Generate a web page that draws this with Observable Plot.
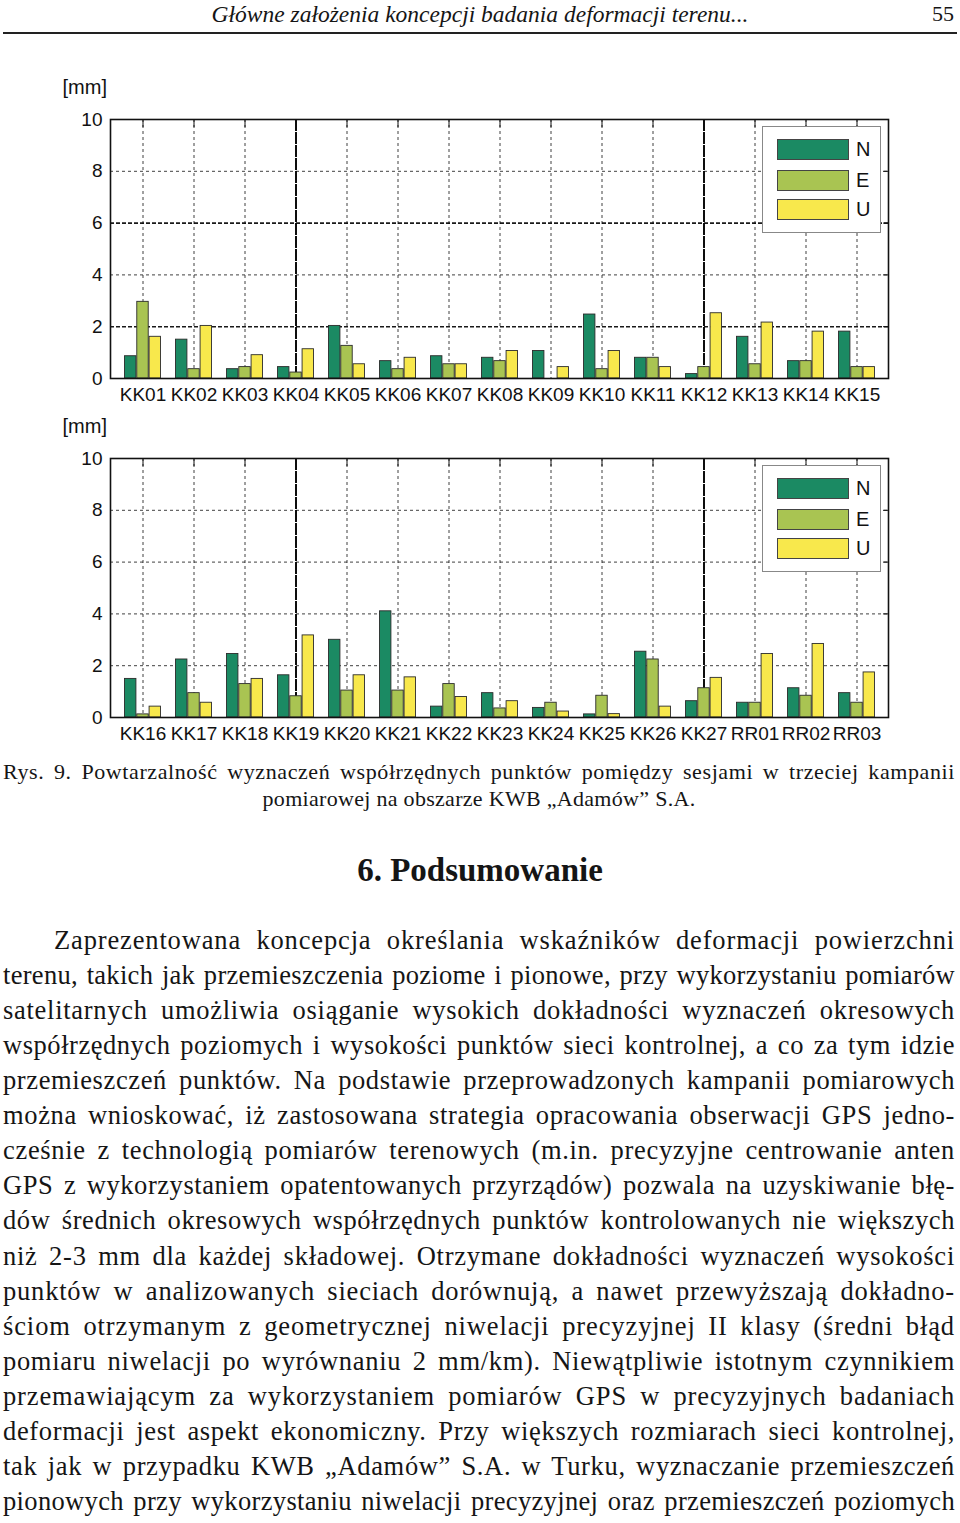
<!DOCTYPE html>
<html><head><meta charset="utf-8">
<script src="https://cdn.jsdelivr.net/npm/d3@7"></script>
<script src="https://cdn.jsdelivr.net/npm/@observablehq/plot@0.6"></script>
<style>
body{margin:0;background:#fff;}
#page{position:relative;width:960px;height:1523px;overflow:hidden;font-family:"Liberation Serif","Times New Roman",serif;color:#151515;background:#fff;}
.abs{position:absolute;white-space:nowrap;}
.chart{position:absolute;left:0;width:960px;height:340px;}
.legend{position:absolute;left:762px;top:54px;width:119px;height:107px;border:1px solid #888;background:#fff;box-sizing:border-box;font-family:"Liberation Sans",Arial,sans-serif;font-size:20px;color:#111;}
.sw{position:absolute;left:14px;width:72px;height:21px;border:1px solid #444;box-sizing:border-box;}
.lt{position:absolute;left:93px;line-height:21px;}
.line{position:absolute;white-space:nowrap;font-size:26.5px;line-height:35px;}
.cap{position:absolute;white-space:nowrap;font-size:22px;line-height:27px;}
</style>
</head><body>
<div id="page">
  <div class="abs" id="hdr" style="left:0;width:960px;text-align:center;top:0;font-style:italic;font-size:23.5px;line-height:28px;">Główne założenia koncepcji badania deformacji terenu...</div>
  <div class="abs" style="left:932px;top:0;font-size:22px;line-height:28px;">55</div>
  <div class="abs" style="left:3px;top:32px;width:954px;height:1.5px;background:#222;"></div>
  <div class="chart" id="c1" style="top:72px;"></div>
  <div class="chart" id="c2" style="top:411px;"></div>
  <div id="caption"></div>
  <div class="abs" style="left:0;width:960px;text-align:center;top:850px;font-size:33px;line-height:40px;font-weight:bold;">6. Podsumowanie</div>
  <div id="body"></div>
</div>
<script>
// ---- data ----
const cats1 = ["KK01","KK02","KK03","KK04","KK05","KK06","KK07","KK08","KK09","KK10","KK11","KK12","KK13","KK14","KK15"];
const n1 = [0.86,1.50,0.36,0.44,2.03,0.67,0.86,0.80,1.06,2.47,0.80,0.17,1.61,0.67,1.81];
const e1 = [2.96,0.36,0.44,0.23,1.26,0.36,0.55,0.67,0.00,0.36,0.80,0.44,0.55,0.67,0.44];
const u1 = [1.61,2.03,0.90,1.13,0.55,0.80,0.55,1.06,0.44,1.06,0.44,2.52,2.16,1.81,0.44];

const cats2 = ["KK16","KK17","KK18","KK19","KK20","KK21","KK22","KK23","KK24","KK25","KK26","KK27","RR01","RR02","RR03"];
const n2 = [1.49,2.24,2.45,1.63,3.00,4.10,0.42,0.94,0.37,0.12,2.54,0.63,0.57,1.13,0.94];
const e2 = [0.12,0.94,1.29,0.82,1.04,1.04,1.29,0.35,0.57,0.84,2.24,1.13,0.57,0.84,0.57];
const u2 = [0.42,0.57,1.49,3.17,1.63,1.55,0.79,0.63,0.23,0.13,0.42,1.53,2.45,2.84,1.74];

const seriesNames = ["N","E","U"];
const seriesColors = ["#1b8a63","#a9c452","#f8e84c"];
const yTicks = [0,2,4,6,8,10];
const yLabel = "[mm]";

const captionLines = [
  "Rys. 9. Powtarzalność wyznaczeń współrzędnych punktów pomiędzy sesjami w trzeciej kampanii",
  "pomiarowej na obszarze KWB „Adamów” S.A."
];
const bodyLines = [
  "Zaprezentowana koncepcja określania wskaźników deformacji powierzchni",
  "terenu, takich jak przemieszczenia poziome i pionowe, przy wykorzystaniu pomiarów",
  "satelitarnych umożliwia osiąganie wysokich dokładności wyznaczeń okresowych",
  "współrzędnych poziomych i wysokości punktów sieci kontrolnej, a co za tym idzie",
  "przemieszczeń punktów. Na podstawie przeprowadzonych kampanii pomiarowych",
  "można wnioskować, iż zastosowana strategia opracowania obserwacji GPS jedno-",
  "cześnie z technologią pomiarów terenowych (m.in. precyzyjne centrowanie anten",
  "GPS z wykorzystaniem opatentowanych przyrządów) pozwala na uzyskiwanie błę-",
  "dów średnich okresowych współrzędnych punktów kontrolowanych nie większych",
  "niż 2-3 mm dla każdej składowej. Otrzymane dokładności wyznaczeń wysokości",
  "punktów w analizowanych sieciach dorównują, a nawet przewyższają dokładno-",
  "ściom otrzymanym z geometrycznej niwelacji precyzyjnej II klasy (średni błąd",
  "pomiaru niwelacji po wyrównaniu 2 mm/km). Niewątpliwie istotnym czynnikiem",
  "przemawiającym za wykorzystaniem pomiarów GPS w precyzyjnych badaniach",
  "deformacji jest aspekt ekonomiczny. Przy większych rozmiarach sieci kontrolnej,",
  "tak jak w przypadku KWB „Adamów” S.A. w Turku, wyznaczanie przemieszczeń",
  "pionowych przy wykorzystaniu niwelacji precyzyjnej oraz przemieszczeń poziomych"
];

// ---- charts ----
function makeChart(el, cats, n, e, u, boldX, boldY) {
  const rows = [];
  [n, e, u].forEach((vals, si) => vals.forEach((v, i) => rows.push({cat: cats[i], series: seriesNames[si], value: v})));
  const mL = 110, mR = 72;
  const band = (960 - mL - mR) / cats.length;
  const barW = 12.3;
  const inset = (band - barW) / 2;
  const bars = seriesNames.map((s, si) => Plot.barY(rows.filter(r => r.series === s), {
    x: "cat", y: "value", fill: seriesColors[si], stroke: "#2b2b2b", strokeWidth: 0.9,
    insetLeft: inset, insetRight: inset, dx: (si - 1) * barW
  }));
  const svg = Plot.plot({
    width: 960, height: 340,
    marginLeft: mL, marginRight: mR, marginTop: 47, marginBottom: 34,
    style: {fontFamily: "'Liberation Sans', Arial, sans-serif", fontSize: "18px", color: "#111", background: "transparent"},
    x: {domain: cats, padding: 0, label: null},
    y: {domain: [0, 10], label: null},
    marks: [
      Plot.gridY({ticks: yTicks.filter(t => t > 0 && t < 10 && !boldY.includes(t)), stroke: "#000", strokeOpacity: 0.75, strokeDasharray: "3,3"}),
      Plot.gridY({ticks: boldY, stroke: "#000", strokeOpacity: 0.9, strokeWidth: 1.6, strokeDasharray: "4,2"}),
      Plot.gridX({ticks: cats.filter(c => !boldX.includes(c)), stroke: "#000", strokeOpacity: 0.75, strokeDasharray: "3,3"}),
      Plot.gridX({ticks: boldX, stroke: "#000", strokeOpacity: 0.95, strokeWidth: 2, strokeDasharray: "12,1"}),
      ...bars,
      Plot.frame({stroke: "#111", strokeWidth: 1.6}),
      Plot.axisX({anchor: "bottom", tickSize: 0, tickPadding: 9, fontSize: 19, label: null}),
      Plot.axisX({anchor: "top", tickSize: -7, tickFormat: () => "", label: null}),
      Plot.axisY({anchor: "left", ticks: yTicks, tickSize: 0, tickPadding: 8, fontSize: 19, label: null}),
      Plot.axisY({anchor: "right", ticks: [2,4,6,8], tickSize: -6, tickFormat: () => "", label: null}),
      Plot.text([yLabel], {text: d => d, frameAnchor: "top-left", dx: -48, dy: -40, textAnchor: "start", fontSize: 20})
    ]
  });
  el.appendChild(svg);
  const lg = document.createElement("div");
  lg.className = "legend";
  const tops = [12, 43, 72];
  seriesNames.forEach((s, i) => {
    const sw = document.createElement("div");
    sw.className = "sw"; sw.style.top = tops[i] + "px"; sw.style.background = seriesColors[i];
    lg.appendChild(sw);
    const t = document.createElement("div");
    t.className = "lt"; t.style.top = tops[i] + "px"; t.textContent = s;
    lg.appendChild(t);
  });
  el.appendChild(lg);
}
makeChart(document.getElementById("c1"), cats1, n1, e1, u1, ["KK04","KK12"], [2,6]);
makeChart(document.getElementById("c2"), cats2, n2, e2, u2, ["KK19","KK27"], []);

// ---- text ----
function justifyLine(el, target) {
  const text = el.textContent;
  const nChars = text.length;
  const nSpaces = (text.match(/ /g) || []).length;
  let w = el.getBoundingClientRect().width;
  let extra = target - w;
  let ls = Math.max(-0.8, Math.min(1.0, extra * 0.6 / nChars));
  el.style.letterSpacing = ls + "px";
  w = el.getBoundingClientRect().width;
  extra = target - w;
  el.style.wordSpacing = (nSpaces ? extra / nSpaces : 0) + "px";
}
const cap = document.getElementById("caption");
captionLines.forEach((t, i) => {
  const d = document.createElement("div");
  d.className = "cap"; d.textContent = t;
  d.style.top = (758 + i * 27) + "px";
  cap.appendChild(d);
  if (i === 0) { d.style.left = "3px"; justifyLine(d, 952); }
  else { d.style.letterSpacing = "0.3px"; const w = d.getBoundingClientRect().width; d.style.left = (479 - w / 2) + "px"; }
});
const body = document.getElementById("body");
bodyLines.forEach((t, i) => {
  const d = document.createElement("div");
  d.className = "line"; d.textContent = t;
  const left = i === 0 ? 54 : 3;
  d.style.left = left + "px";
  d.style.top = (923 + i * 35.06) + "px";
  body.appendChild(d);
  justifyLine(d, 955 - left);
});
</script>
</body></html>
